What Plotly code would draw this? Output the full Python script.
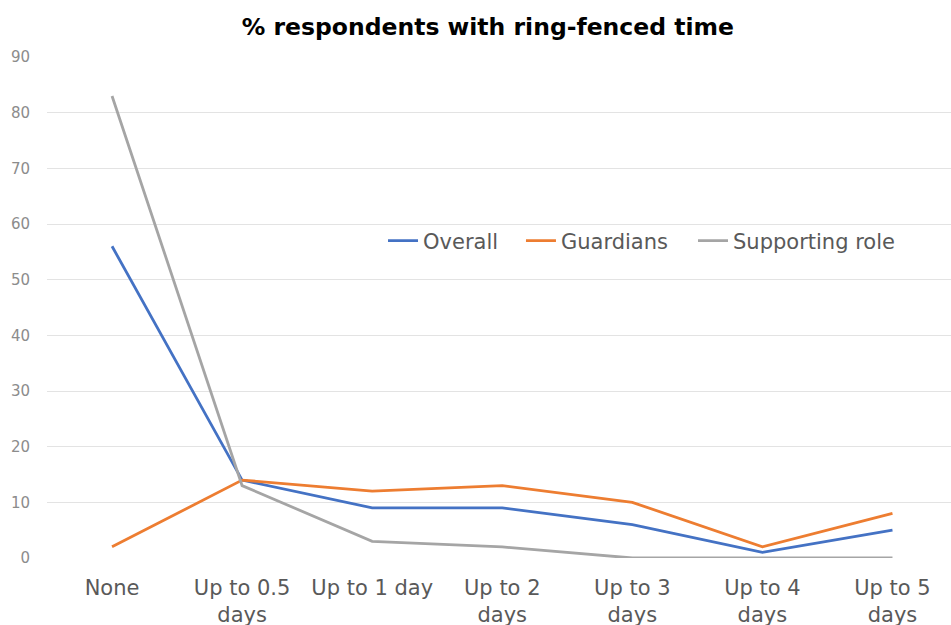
import plotly.graph_objects as go

categories = ["None", "Up to 0.5<br>days", "Up to 1 day", "Up to 2<br>days",
              "Up to 3<br>days", "Up to 4<br>days", "Up to 5<br>days"]
overall = [56, 14, 9, 9, 6, 1, 5]
guardians = [2, 14, 12, 13, 10, 2, 8]
supporting = [83, 13, 3, 2, 0, 0, 0]
y_ticks = [0, 10, 20, 30, 40, 50, 60, 70, 80, 90]

series = [("Overall", overall, "#4472C4", "legend", 0.3717),
          ("Guardians", guardians, "#ED7D31", "legend2", 0.5243),
          ("Supporting role", supporting, "#A5A5A5", "legend3", 0.7146)]

FONT = "DejaVu Sans, Liberation Sans, Arial, sans-serif"

fig = go.Figure()
legends = {}
for name, vals, col, lg, lx in series:
    fig.add_trace(go.Scatter(x=categories, y=vals, name=name, mode="lines",
                             line=dict(color=col, width=2.8), legend=lg))
    legends[lg] = dict(orientation="h", x=lx, y=0.6327, xref="paper", yref="paper",
                       xanchor="left", yanchor="middle",
                       font=dict(size=21, color="#595959", family=FONT),
                       bgcolor="rgba(0,0,0,0)", itemwidth=30)

fig.update_layout(
    width=951, height=625,
    margin=dict(l=47, r=0, t=57, b=67),
    paper_bgcolor="white", plot_bgcolor="white",
    font=dict(family=FONT, color="#595959"),
    title=dict(text="<b>% respondents with ring-fenced time</b>",
               x=0.513, xanchor="center", y=0.957, yanchor="middle",
               font=dict(size=23.5, color="#000000", family=FONT)),
    showlegend=True,
    **legends,
)
fig.update_xaxes(type="category", range=[-0.5, 6.45], showgrid=False,
                 showline=False, zeroline=False, automargin=False,
                 tickfont=dict(size=21, color="#595959", family=FONT), ticks="",
                 ticklabelstandoff=15)
fig.update_yaxes(range=[0, 90], tickvals=y_ticks, showgrid=True,
                 gridcolor="#E3E3E3", gridwidth=1, zeroline=False,
                 showline=False, automargin=False,
                 tickfont=dict(size=15, color="#8C8C8C", family=FONT),
                 ticklabelstandoff=16)

fig.write_html("out.html")
